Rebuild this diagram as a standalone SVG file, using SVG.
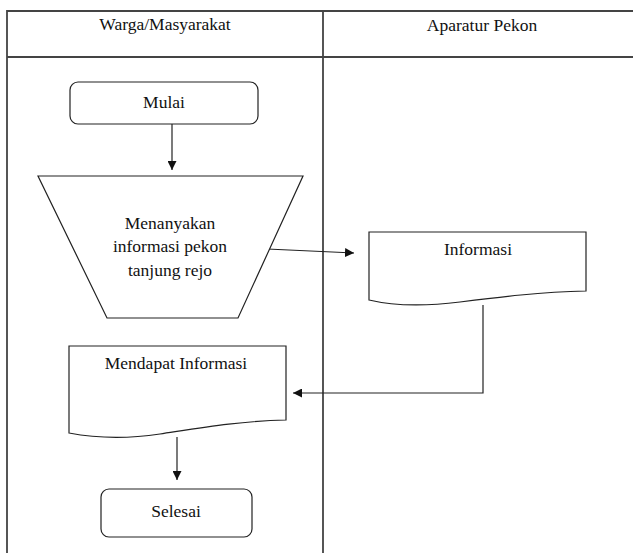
<svg xmlns="http://www.w3.org/2000/svg" width="633" height="553" viewBox="0 0 633 553">
  <style>
    .lane { fill: none; stroke: #444; stroke-width: 1.8; }
    .shape { fill: #fff; stroke: #222; stroke-width: 1.2; }
    .wire { fill: none; stroke: #222; stroke-width: 1.2; }
    .lbl { font-family: 'Liberation Serif', 'DejaVu Serif', serif; font-size: 17.5px; fill: #111; text-anchor: middle; }
  </style>
  <defs>
    <marker id="arrow" viewBox="0 0 10 10" refX="10" refY="5" markerWidth="9" markerHeight="9" markerUnits="userSpaceOnUse" orient="auto">
      <path d="M0,0 L10,5 L0,10 Z" fill="#111"/>
    </marker>
  </defs>
  <rect width="633" height="553" fill="#fff"/>

  <!-- swimlane table -->
  <g id="lanes">
    <path class="lane" d="M7,553 V11 H640 M7,57 H640 M323,11 V553"/>
    <text class="lbl" x="165" y="30">Warga/Masyarakat</text>
    <text class="lbl" x="482" y="31">Aparatur Pekon</text>
  </g>

  <g id="connectors">
    <path class="wire" d="M172,124 V170" marker-end="url(#arrow)"/>
    <path class="wire" d="M267,249 L354,253" marker-end="url(#arrow)"/>
    <path class="wire" d="M483,305 V393 H293" marker-end="url(#arrow)"/>
    <path class="wire" d="M177,437 V480" marker-end="url(#arrow)"/>
  </g>

  <g id="mulai">
    <rect class="shape" x="70" y="82" width="188" height="42" rx="8"/>
    <text class="lbl" x="164" y="108">Mulai</text>
  </g>

  <g id="menanyakan">
    <path class="shape" d="M38,176 H303 L238,318 H107 Z"/>
    <text class="lbl" x="170" y="228.5">Menanyakan</text>
    <text class="lbl" x="170" y="252">informasi pekon</text>
    <text class="lbl" x="170" y="275.5">tanjung rejo</text>
  </g>

  <g id="informasi">
    <path class="shape" d="M369,232 H586 V291 C540,292 500,297 460,302 C420,307 390,305 369,300 Z"/>
    <text class="lbl" x="478" y="255">Informasi</text>
  </g>

  <g id="mendapat">
    <path class="shape" d="M69,346 H286 V420 C240,421 200,428 160,434 C120,440 90,437 69,433 Z"/>
    <text class="lbl" x="176" y="369">Mendapat Informasi</text>
  </g>

  <g id="selesai">
    <rect class="shape" x="101" y="489" width="151" height="48" rx="8"/>
    <text class="lbl" x="176" y="517">Selesai</text>
  </g>
</svg>
